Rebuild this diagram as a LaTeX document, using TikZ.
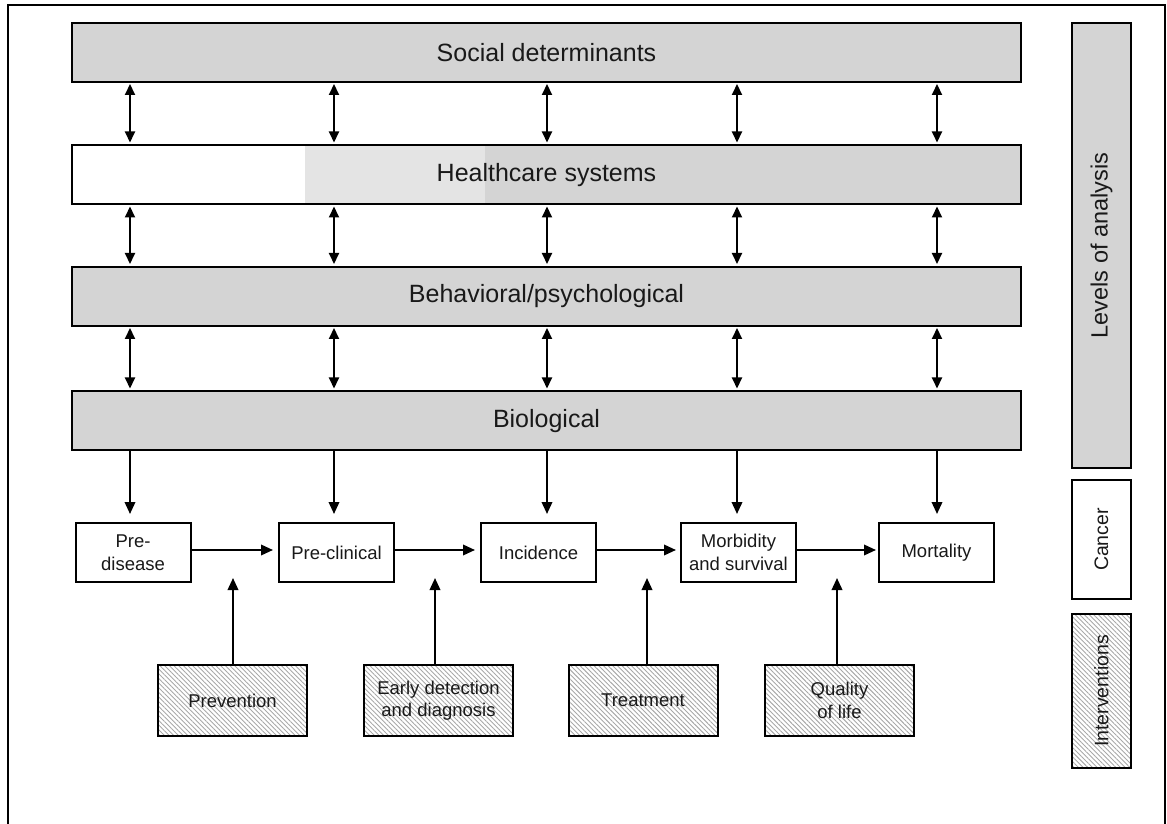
\documentclass[tikz,border=0pt]{standalone}
\usepackage{fontspec}
\setmainfont{Liberation Sans}
\usetikzlibrary{arrows.meta,patterns.meta}
\definecolor{barfill}{HTML}{D4D4D4}
\definecolor{hcmid}{HTML}{E4E4E4}
\definecolor{hatch}{HTML}{A8A8A8}
\begin{document}
\begin{tikzpicture}[x=1pt,y=1pt,
  box/.style={draw, line width=2pt, rectangle, inner sep=0pt, align=center, text=black!90},
  bar/.style={box, fill=barfill, minimum width=949pt, minimum height=59pt, font=\fontsize{25}{30}\selectfont},
  stage/.style={box, fill=white, minimum width=115pt, minimum height=59pt, font=\fontsize{18.5}{22.5}\selectfont},
  hatched/.style={pattern={Lines[angle=-45,distance=3.3pt,line width=0.9pt]}, pattern color=hatch},
  interv/.style={box, hatched, minimum width=149pt, minimum height=71pt, font=\fontsize{18.5}{22.5}\selectfont},
  sidebox/.style={box, rotate=90, minimum height=59pt},
  arr/.style={line width=2pt, -{Triangle[length=12pt,width=10.5pt]}},
  darr/.style={line width=2pt, {Triangle[length=11pt,width=10pt]}-{Triangle[length=11pt,width=10pt]}, shorten <=1pt, shorten >=2pt},
]
\useasboundingbox (0,0) rectangle (1167,823);
% outer frame
\draw[line width=2.6pt] (8,-20) -- (8,818) -- (1165,818) -- (1165,-20);

% level bars
\node[bar] (soc) at (546.5,770.5) {Social determinants};
\node[bar, fill=white,
  path picture={
    \fill[hcmid] ([xshift=233pt]path picture bounding box.south west) rectangle ([xshift=413pt]path picture bounding box.north west);
    \fill[barfill] ([xshift=413pt]path picture bounding box.south west) rectangle (path picture bounding box.north east);
  }] (hc) at (546.5,648) {Healthcare systems};
\node[bar] (beh) at (546.5,526.5) {Behavioral/psychological};
\node[bar] (bio) at (546.5,402) {Biological};

% columns
\coordinate (c1) at (130,0);
\coordinate (c2) at (334,0);
\coordinate (c3) at (547,0);
\coordinate (c4) at (737,0);
\coordinate (c5) at (937,0);

\foreach \c in {c1,c2,c3,c4,c5}{
  \draw[darr] (soc.south -| \c) -- (hc.north -| \c);
  \draw[darr] (hc.south -| \c) -- (beh.north -| \c);
  \draw[darr] (beh.south -| \c) -- (bio.north -| \c);
}

% cancer stages
\node[stage] (pd) at (133,270.5) {Pre-\\disease};
\node[stage] (pc) at (336.5,270.5) {Pre-clinical};
\node[stage] (inc) at (538.5,270.5) {Incidence};
\node[stage] (mor) at (738.5,270.5) {Morbidity\\and survival};
\node[stage] (mort) at (936.5,270.5) {Mortality};

\draw[arr, shorten >=8pt] (bio.south -| c1) -- (pd.north -| c1);
\draw[arr, shorten >=8pt] (bio.south -| c2) -- (pc.north -| c2);
\draw[arr, shorten >=8pt] (bio.south -| c3) -- (inc.north -| c3);
\draw[arr, shorten >=8pt] (bio.south -| c4) -- (mor.north -| c4);
\draw[arr, shorten >=8pt] (bio.south -| c5) -- (mort.north -| c5);

\draw[arr, shorten >=5pt] ([yshift=2.5pt]pd.east) -- ([yshift=2.5pt]pc.west);
\draw[arr, shorten >=5pt] ([yshift=2.5pt]pc.east) -- ([yshift=2.5pt]inc.west);
\draw[arr, shorten >=4pt] ([yshift=2.5pt]inc.east) -- ([yshift=2.5pt]mor.west);
\draw[arr, shorten >=2pt] ([yshift=2.5pt]mor.east) -- ([yshift=2.5pt]mort.west);

% interventions
\node[interv] (prev) at (232.5,122.5) {Prevention};
\node[interv] (early) at (438.5,122.5) {Early detection\\and diagnosis};
\node[interv] (treat) at (643,122.5) {Treatment};
\node[interv] (qol) at (839.5,122.5) {Quality\\of life};

\coordinate (t1) at (233,245);
\coordinate (t2) at (435,245);
\coordinate (t3) at (647,245);
\coordinate (t4) at (837,245);
\draw[arr] (prev.north -| t1) -- (t1);
\draw[arr] (early.north -| t2) -- (t2);
\draw[arr] (treat.north -| t3) -- (t3);
\draw[arr] (qol.north -| t4) -- (t4);

% side labels
\node[sidebox, fill=barfill, minimum width=445pt, font=\fontsize{23.5}{28}\selectfont] (lev) at (1101.5,577.5) {Levels of analysis};
\node[sidebox, fill=white, minimum width=119pt, font=\fontsize{19.5}{24}\selectfont] (can) at (1101.5,283.5) {Cancer};
\node[sidebox, hatched, minimum width=154pt, font=\fontsize{19.5}{24}\selectfont] (int) at (1101.5,132) {Interventions};
\end{tikzpicture}
\end{document}
